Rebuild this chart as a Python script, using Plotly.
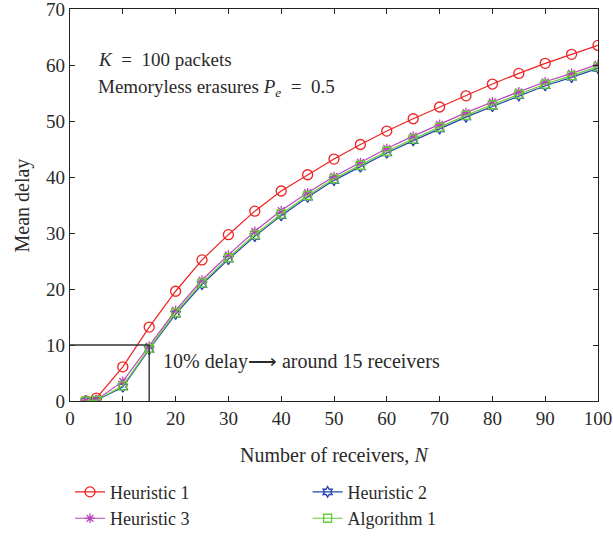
import plotly.graph_objects as go

N = [3, 5, 10, 15, 20, 25, 30, 35, 40, 45, 50, 55, 60, 65, 70, 75, 80, 85, 90, 95, 100]
heuristic1 = [0.0, 0.5, 6.1, 13.2, 19.6, 25.2, 29.7, 33.9, 37.5, 40.4, 43.2, 45.8, 48.2, 50.4, 52.5, 54.5, 56.6, 58.5, 60.3, 61.9, 63.5]
algorithm1 = [0.0, 0.1, 2.7, 9.4, 15.8, 21.1, 25.6, 29.7, 33.4, 36.7, 39.7, 42.1, 44.6, 46.8, 48.9, 51.0, 52.9, 54.8, 56.6, 58.1, 59.7]
heuristic3 = [0.0, 0.2, 3.5, 9.8, 16.2, 21.6, 26.1, 30.3, 34.0, 37.2, 40.1, 42.6, 45.1, 47.3, 49.4, 51.5, 53.4, 55.2, 57.0, 58.5, 60.1]
heuristic2 = [0.0, 0.1, 2.5, 9.2, 15.5, 20.8, 25.3, 29.4, 33.1, 36.4, 39.4, 41.8, 44.3, 46.5, 48.6, 50.7, 52.6, 54.5, 56.3, 57.8, 59.4]

FONT = "Liberation Serif"
TXT = "#2a2a2a"

fig = go.Figure()
series = [
    ("Heuristic 1", heuristic1, "#ee2222", "circle-open", 10),
    ("Heuristic 2", heuristic2, "#2244aa", "hexagram-open", 8),
    ("Heuristic 3", heuristic3, "#bb44bb", "asterisk-open", 8),
    ("Algorithm 1", algorithm1, "#66cc33", "square-open", 8),
]
for name, ys, col, sym, sz in series:
    fig.add_trace(go.Scatter(
        x=N, y=ys, name=name, mode="lines+markers",
        line=dict(color=col, width=1.2),
        marker=dict(symbol=sym, size=sz, color=col, line=dict(color=col, width=1.3)),
    ))

# reference lines at 10% delay
fig.add_shape(type="line", x0=0, x1=15, y0=10, y1=10, line=dict(color="#333333", width=1.4))
fig.add_shape(type="line", x0=15, x1=15, y0=0, y1=10, line=dict(color="#333333", width=1.4))

fig.add_annotation(x=17.3, y=7.1, xanchor="left", yanchor="middle", showarrow=False,
                   text="10% delay\u27F6 around 15 receivers",
                   font=dict(family=FONT, size=20, color=TXT))
fig.add_annotation(x=4.9, y=60.9, xanchor="left", yanchor="middle", showarrow=False,
                   text="<i>K</i>  =  100 packets",
                   font=dict(family=FONT, size=19, color=TXT))
fig.add_annotation(x=4.9, y=55.9, xanchor="left", yanchor="middle", showarrow=False,
                   text="Memoryless erasures <i>P<sub>e</sub></i>  =  0.5",
                   font=dict(family=FONT, size=19, color=TXT))

# axis titles
fig.add_annotation(xref="paper", yref="paper", x=0.5, y=-0.105, xanchor="center", yanchor="top",
                   showarrow=False, text="Number of receivers, <i>N</i>",
                   font=dict(family=FONT, size=20, color=TXT))
fig.add_annotation(xref="paper", yref="paper", x=-0.09, y=0.5, xanchor="center", yanchor="middle",
                   showarrow=False, text="Mean delay", textangle=-90,
                   font=dict(family=FONT, size=20, color=TXT))

axis_common = dict(showline=True, linecolor="#222222", linewidth=1.4, mirror="ticks",
                   ticks="inside", ticklen=5, tickcolor="#222222", showgrid=False,
                   zeroline=False, automargin=False, ticklabeloverflow="allow",
                   tickfont=dict(family=FONT, size=19, color=TXT))

fig.update_xaxes(range=[0, 100], tickvals=list(range(0, 101, 10)), **axis_common)
fig.update_yaxes(range=[0, 70], tickvals=list(range(0, 71, 10)), **axis_common)

fig.update_layout(
    width=613, height=541,
    margin=dict(l=70, r=15, t=9, b=140, autoexpand=False),
    plot_bgcolor="white", paper_bgcolor="white",
    font=dict(family=FONT, size=19, color=TXT),
    legend=dict(orientation="h", x=0.0, xanchor="left",
                yref="container", y=0.008, yanchor="bottom",
                entrywidth=0.45, entrywidthmode="fraction",
                font=dict(family=FONT, size=18, color=TXT),
                tracegroupgap=0),
    showlegend=True,
)

# remove the browser's default 8px body margin so the figure fills the window
fig.write_html("out.html",
               config={"displayModeBar": False},
               post_script="document.body.style.margin='0px';document.body.style.overflow='hidden';")
